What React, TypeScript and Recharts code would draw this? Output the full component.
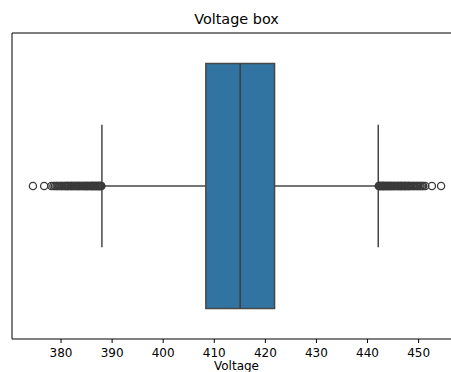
import {
  ScatterChart,
  Scatter,
  XAxis,
  YAxis,
  ReferenceArea,
  ReferenceLine,
} from 'recharts';

// box statistics
const q1 = 408.35;
const median = 415.07;
const q3 = 421.8;
const whiskerLow = 388.0;
const whiskerHigh = 442.1;

const xTicks = [380, 390, 400, 410, 420, 430, 440, 450];
const xDomain = [370.4, 458.3];

const lowOutliers = [
  374.5, 376.7, 378.1, 378.5, 378.8, 379.1, 379.3, 379.6, 379.9, 380.1, 380.3, 380.6,
  380.8, 381.0, 381.2, 381.4, 381.5, 381.8, 382.0, 382.1, 382.3, 382.5, 382.7, 382.9,
  383.1, 383.3, 383.4, 383.6, 383.8, 384.0, 384.2, 384.4, 384.5, 384.7, 384.9, 385.0,
  385.2, 385.3, 385.5, 385.7, 385.9, 386.0, 386.1, 386.3, 386.4, 386.6, 386.7, 386.9,
  387.0, 387.2, 387.3, 387.4, 387.6, 387.7, 387.8, 387.9,
];
const highOutliers = [
  442.2, 442.3, 442.4, 442.6, 442.7, 442.9, 443.0, 443.1, 443.2, 443.4, 443.5, 443.7,
  443.8, 444.0, 444.1, 444.3, 444.4, 444.6, 444.7, 444.9, 445.1, 445.2, 445.4, 445.6,
  445.8, 446.0, 446.1, 446.3, 446.5, 446.6, 446.8, 446.9, 447.2, 447.3, 447.4, 447.6,
  447.8, 448.0, 448.1, 448.3, 448.5, 448.8, 449.0, 449.2, 449.5, 449.7, 449.9, 450.2,
  450.4, 450.7, 450.9, 451.3, 452.6, 454.4,
];

const boxColor = '#3274a1';
const lineColor = '#474747';

const outlierData = [...lowOutliers, ...highOutliers].map((v) => ({ x: v, y: 0 }));

const FlierDot = (props: any) => (
  <circle cx={props.cx} cy={props.cy} r={3.6} fill="none" stroke="#3a3a3a" strokeWidth={1.3} />
);

export default function App() {
  const font = '"DejaVu Sans", sans-serif';
  return (
    <div
      style={{
        position: 'absolute',
        left: 0,
        top: 0,
        width: 451,
        height: 372,
        overflow: 'hidden',
        background: '#fff',
        fontFamily: font,
      }}
    >
      <div
        style={{
          position: 'absolute',
          left: 0,
          width: 473,
          top: 11.8,
          textAlign: 'center',
          fontSize: 14.4,
          lineHeight: '14.4px',
          color: '#000',
        }}
      >
        Voltage box
      </div>
      <ScatterChart width={470} height={372} margin={{ top: 33, right: 9, left: 12, bottom: 0 }}>
        <XAxis
          type="number"
          dataKey="x"
          domain={xDomain}
          ticks={xTicks}
          allowDataOverflow
          axisLine={false}
          tickLine={{ stroke: '#000', strokeWidth: 1 }}
          tickSize={4}
          tickMargin={5}
          height={33}
          tick={{ fontSize: 12, fill: '#000', fontFamily: font }}
        />
        <YAxis
          type="number"
          dataKey="y"
          domain={[-0.5, 0.5]}
          ticks={[0]}
          width={0}
          axisLine={false}
          tickLine={{ stroke: '#000', strokeWidth: 1 }}
          tickSize={4}
          tickFormatter={() => ''}
        />
        <ReferenceLine
          segment={[{ x: whiskerLow, y: 0 }, { x: q1, y: 0 }]}
          stroke={lineColor}
          strokeWidth={1.5}
        />
        <ReferenceLine
          segment={[{ x: q3, y: 0 }, { x: whiskerHigh, y: 0 }]}
          stroke={lineColor}
          strokeWidth={1.5}
        />
        <ReferenceLine
          segment={[{ x: whiskerLow, y: -0.2 }, { x: whiskerLow, y: 0.2 }]}
          stroke={lineColor}
          strokeWidth={1.5}
        />
        <ReferenceLine
          segment={[{ x: whiskerHigh, y: -0.2 }, { x: whiskerHigh, y: 0.2 }]}
          stroke={lineColor}
          strokeWidth={1.5}
        />
        <ReferenceArea
          x1={q1}
          x2={q3}
          y1={-0.4}
          y2={0.4}
          fill={boxColor}
          fillOpacity={1}
          stroke={lineColor}
          strokeWidth={1.5}
        />
        <ReferenceLine
          segment={[{ x: median, y: -0.4 }, { x: median, y: 0.4 }]}
          stroke="#3d3d3d"
          strokeWidth={1.5}
        />
        <ReferenceArea
          x1={xDomain[0]}
          x2={xDomain[1]}
          y1={-0.5}
          y2={0.5}
          fill="none"
          stroke="#000"
          strokeWidth={1}
        />
        <Scatter data={outlierData} shape={FlierDot} isAnimationActive={false} />
      </ScatterChart>
      <div
        style={{
          position: 'absolute',
          left: 0,
          width: 473,
          top: 360.4,
          textAlign: 'center',
          fontSize: 12,
          lineHeight: '12px',
          color: '#000',
        }}
      >
        Voltage
      </div>
    </div>
  );
}
